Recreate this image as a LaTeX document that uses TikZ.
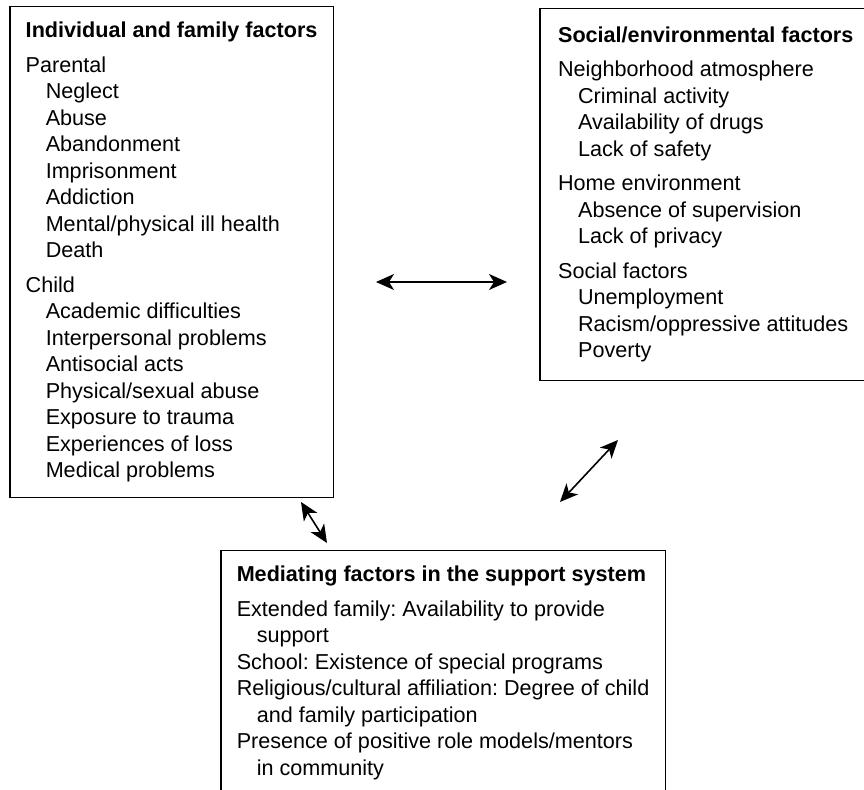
\documentclass[tikz,border=0pt]{standalone}
\usepackage{fontspec}
\setmainfont{Liberation Sans}
\usetikzlibrary{arrows.meta}
\frenchspacing

\newcommand{\itm}{\hspace*{10pt}}
\newcommand{\hd}[1]{\textbf{#1}\\[4pt]}

\begin{document}
\begin{tikzpicture}[
    x=0.5pt, y=-0.5pt,
    box/.style={
        draw,
        line width=0.75pt,
        anchor=north west,
        align=left,
        inner xsep=8pt,
        inner ysep=7.7pt,
        font=\fontsize{10.8pt}{13.25pt}\selectfont
    },
    arrow/.style={{Stealth[length=9pt,width=8pt,inset=2.5pt]}-{Stealth[length=9pt,width=8pt,inset=2.5pt]}, line width=0.8pt}
]
\useasboundingbox (0,0) rectangle (864,790);
\clip (0,0) rectangle (864,790);

\node[box] (indiv) at (9,6) {\hd{Individual and family factors}
Parental\\
\itm Neglect\\
\itm Abuse\\
\itm Abandonment\\
\itm Imprisonment\\
\itm Addiction\\
\itm Mental/physical ill health\\
\itm Death\\[4pt]
Child\\
\itm Academic difficulties\\
\itm Interpersonal problems\\
\itm Antisocial acts\\
\itm Physical/sexual abuse\\
\itm Exposure to trauma\\
\itm Experiences of loss\\
\itm Medical problems};

\node[box, inner ysep=9pt, minimum width=166pt] (social) at (539,8) {\hd{Social/environmental factors}
Neighborhood atmosphere\\
\itm Criminal activity\\
\itm Availability of drugs\\
\itm Lack of safety\\[4pt]
Home environment\\
\itm Absence of supervision\\
\itm Lack of privacy\\[4pt]
Social factors\\
\itm Unemployment\\
\itm Racism/oppressive attitudes\\
\itm Poverty};

\node[box] (support) at (220,550) {\hd{Mediating factors in the support system}
Extended family: Availability to provide\\
\itm support\\
School: Existence of special programs\\
Religious/cultural affiliation: Degree of child\\
\itm and family participation\\
Presence of positive role models/mentors\\
\itm in community};

% free-standing double arrows between the boxes
\coordinate (indivR) at (376,282);
\coordinate (socialL) at (507,282);
\coordinate (socialB) at (618,440);
\coordinate (supportR) at (560,502);
\coordinate (indivB) at (301,502);
\coordinate (supportT) at (327,543);

\draw[arrow] (indivR) -- (socialL);
\draw[arrow] (supportR) -- (socialB);
\draw[arrow] (indivB) -- (supportT);
\end{tikzpicture}
\end{document}
